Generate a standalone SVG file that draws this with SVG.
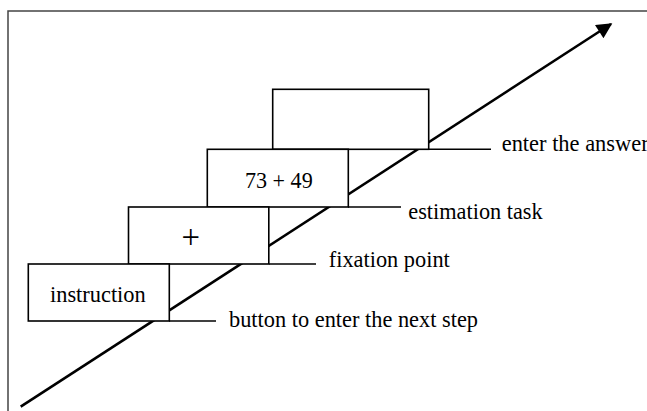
<svg xmlns="http://www.w3.org/2000/svg" width="647" height="411" viewBox="0 0 647 411">
<style>
.box{fill:#fff;stroke:#000;stroke-width:1.6}
.lead{stroke:#000;stroke-width:1.6;fill:none}
.t{font-family:"Liberation Serif","Times New Roman",serif;font-size:24px;fill:#000}
</style>
<defs>
<marker id="ah" viewBox="0 0 10 10" refX="9" refY="5" markerWidth="7" markerHeight="6" markerUnits="strokeWidth" orient="auto">
<path d="M0,0 L10,5 L0,10 z" fill="#000"/>
</marker>
</defs>
<rect width="647" height="411" fill="#fff"/>
<rect x="8" y="11" width="660" height="420" fill="none" stroke="#444" stroke-width="1.5"/>
<g id="connectors">
<line x1="20.7" y1="406.7" x2="611" y2="24" stroke="#000" stroke-width="2.6" marker-end="url(#ah)"/>
<line class="lead" x1="169" y1="321" x2="216" y2="321"/>
<line class="lead" x1="269" y1="264" x2="316" y2="264"/>
<line class="lead" x1="348" y1="207" x2="401" y2="207"/>
<line class="lead" x1="428.5" y1="149.3" x2="491" y2="149.3"/>
</g>
<g id="node-answer"><rect class="box" x="272.7" y="89.3" width="156" height="60"/></g>
<g id="node-estimation"><rect class="box" x="207.3" y="149.3" width="141" height="57.7"/>
<text class="t" x="245" y="188" textLength="67.7" lengthAdjust="spacingAndGlyphs">73 + 49</text></g>
<g id="node-fixation"><rect class="box" x="128.5" y="207" width="140.3" height="57"/>
<text class="t" x="181.5" y="248" style="font-size:34px" textLength="18.5" lengthAdjust="spacingAndGlyphs">+</text></g>
<g id="node-instruction"><rect class="box" x="28.3" y="264" width="141" height="57"/>
<text class="t" x="50" y="301.7" textLength="95.7" lengthAdjust="spacingAndGlyphs">instruction</text></g>
<g id="labels">
<text class="t" x="501.7" y="151" textLength="147" lengthAdjust="spacingAndGlyphs">enter the answer</text>
<text class="t" x="408.3" y="219" textLength="134.4" lengthAdjust="spacingAndGlyphs">estimation task</text>
<text class="t" x="328.8" y="266.7" textLength="121" lengthAdjust="spacingAndGlyphs">fixation point</text>
<text class="t" x="229" y="326.5" textLength="249" lengthAdjust="spacingAndGlyphs">button to enter the next step</text>
</g>
</svg>
